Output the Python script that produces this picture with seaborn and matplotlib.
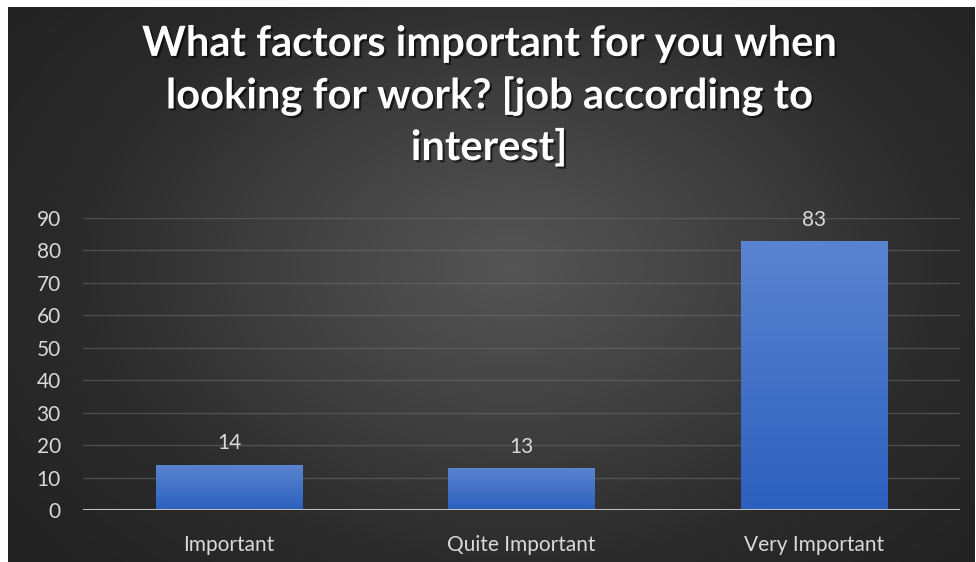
import numpy as np
import pandas as pd
import matplotlib
matplotlib.use("Agg")
import matplotlib.pyplot as plt
import matplotlib.patheffects as pe
from matplotlib.colors import LinearSegmentedColormap
import seaborn as sns

# Survey answers
categories = ["Important", "Quite Important", "Very Important"]
counts = [14, 13, 83]
yticks = [0, 10, 20, 30, 40, 50, 60, 70, 80, 90]
title = "What factors important for you when\nlooking for work? [job according to\ninterest]"

df = pd.DataFrame({"answer": categories, "count": counts})

sns.set_theme(style="dark")
plt.rcParams["font.family"] = ["Lato", "DejaVu Sans"]

W, H = 976, 562
fig = plt.figure(figsize=(W / 100, H / 100), dpi=100, facecolor="white")

# dark panel with a soft radial glow
bg = fig.add_axes([8 / W, 0, (975 - 8) / W, (H - 7) / H])
bg.set_axis_off()
yy, xx = np.mgrid[0:300, 0:520]
cx, cy = 270, 140
r = np.sqrt(((xx - cx) / 420.0) ** 2 + ((yy - cy) / 290.0) ** 2)
r = np.clip(r, 0, 1)
glow = LinearSegmentedColormap.from_list("glow", ["#555555", "#414141", "#2a2a2a", "#222222"])
bg.imshow(r, cmap=glow, aspect="auto", extent=[0, 1, 0, 1], origin="upper")
bg.set_xlim(0, 1)
bg.set_ylim(0, 1)

ax = fig.add_axes([83 / W, 1 - 510 / H, (960 - 83) / W, (510 - 218) / H])
ax.set_facecolor("none")
sns.barplot(data=df, x="answer", y="count", width=0.5, color="#3a6cc6",
            ax=ax, zorder=3, linewidth=0)

ax.set_ylim(0, 90)
ax.set_xlim(-0.5, 2.5)
ax.set_yticks(yticks)
ax.yaxis.grid(True, color="#707070", linewidth=1.0, alpha=0.5, zorder=0)
ax.xaxis.grid(False)
for s in ax.spines.values():
    s.set_visible(False)
ax.axhline(0, color="#bfbfbf", linewidth=2.2, zorder=5)

# vertical gradient fill on each bar
bar_cmap = LinearSegmentedColormap.from_list("bar", ["#2c60be", "#5b84d0"])
grad = np.linspace(0, 1, 256).reshape(-1, 1)
for bar in ax.patches:
    x0, y0 = bar.get_x(), bar.get_y()
    w, h = bar.get_width(), bar.get_height()
    im = ax.imshow(grad, cmap=bar_cmap, aspect="auto", origin="lower",
                   extent=[x0, x0 + w, y0, y0 + h], zorder=4)
    im.set_clip_path(bar)
    bar.set_path_effects([pe.SimplePatchShadow(offset=(0, 0), shadow_rgbFace="black",
                                               alpha=0.35), pe.Normal()])
ax.set_xlim(-0.5, 2.5)
ax.set_ylim(0, 90)

for bar, v in zip(ax.patches, counts):
    ax.annotate(f"{v}", (bar.get_x() + bar.get_width() / 2, v),
                xytext=(0, 8), textcoords="offset points",
                ha="center", va="bottom", fontsize=15, color="#d9d9d9", zorder=6)

ax.set_xlabel("")
ax.set_ylabel("")
ax.tick_params(axis="both", length=0, labelsize=15, colors="#d9d9d9")
ax.tick_params(axis="y", pad=16)
ax.tick_params(axis="x", pad=18)

fig.text(489 / W, 1 - 96 / H, title, ha="center", va="center",
         fontsize=30, fontweight="bold", color="white", linespacing=1.38,
         path_effects=[pe.withSimplePatchShadow(offset=(1.5, -1.5),
                                                shadow_rgbFace="black", alpha=0.6)])

fig.savefig("out.png", dpi=100, facecolor="white")
